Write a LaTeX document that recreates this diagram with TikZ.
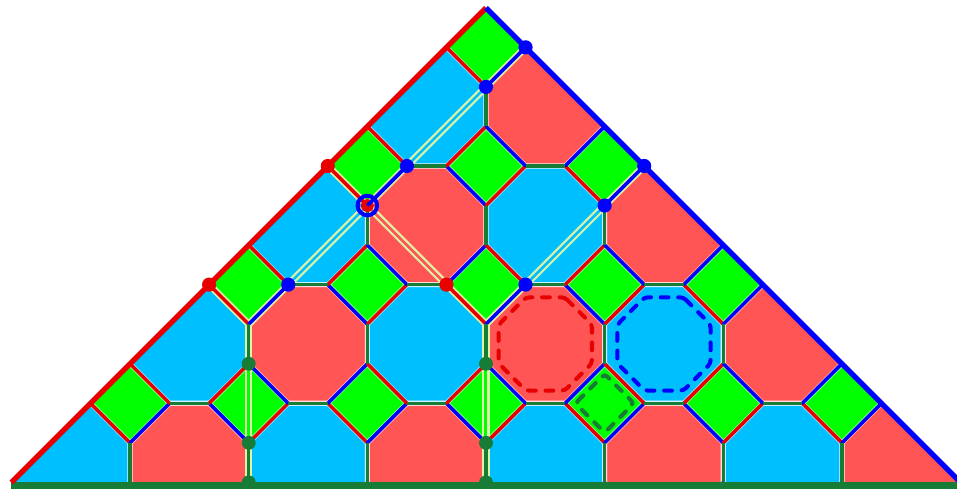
\documentclass[tikz,border=0pt]{standalone}
\definecolor{octred}{HTML}{FF5555}
\definecolor{octblue}{HTML}{00BFFF}
\definecolor{sqgreen}{HTML}{00FF00}
\definecolor{ered}{HTML}{E80000}
\definecolor{eblue}{HTML}{0000FF}
\definecolor{egreen}{HTML}{167C36}
\definecolor{pale}{HTML}{DDF3A6}
\begin{document}
\begin{tikzpicture}[x=1cm,y=1cm,
  edge/.style={line width=2.5pt},
  halo/.style={draw=white, line width=3.7pt, opacity=0.55, line join=round},
  pl/.style={draw=pale, line width=1.45pt},
  dshape/.style={line width=2.9pt, line cap=round, dash pattern=on 5.6pt off 7pt, rounded corners=2.5pt},
  bdot/.style={fill=eblue},
  rdot/.style={fill=ered},
  gdot/.style={fill=egreen}]
\useasboundingbox (-12.288,-0.1416) rectangle (11.909,12.197);
% named points
\coordinate (b1) at (1,11);
\coordinate (b2) at (0,10);
\coordinate (b3) at (-2,8);
\coordinate (b4) at (4,8);
\coordinate (b5) at (3,7);
\coordinate (b6) at (-5,5);
\coordinate (b7) at (1,5);
\coordinate (r1) at (-4,8);
\coordinate (r2) at (-7,5);
\coordinate (r3) at (-1,5);
\coordinate (rr) at (-3,7);
\coordinate (g1) at (-6,3);
\coordinate (g2) at (-6,1);
\coordinate (g3) at (-6,0);
\coordinate (g4) at (0,3);
\coordinate (g5) at (0,1);
\coordinate (g6) at (0,0);
\coordinate (v1) at (-6,4);
\coordinate (v2) at (0,4);
\coordinate (ta) at (0,12);
\coordinate (tl) at (-12,0);
\coordinate (tr) at (12,0);
\begin{scope}
\clip (tl) -- (ta) -- (tr) -- cycle;
% octagon fills
\foreach \i in {-5,...,4}{\foreach \j in {0,...,3}{
  \pgfmathtruncatemacro{\pp}{mod(\i+\j+20,2)}
  \ifnum\pp=1 \def\oc{octred}\else\def\oc{octblue}\fi
  \fill[fill=\oc, shift={({1.5+3*\i},{0.5+3*\j})}] (0.5,1.5)--(1.5,0.5)--(1.5,-0.5)--(0.5,-1.5)--(-0.5,-1.5)--(-1.5,-0.5)--(-1.5,0.5)--(-0.5,1.5)--cycle;
}}
% square fills
\foreach \ka in {-4,...,4}{\foreach \kb in {0,...,3}{
  \fill[sqgreen, shift={({3*\ka},{2+3*\kb})}] (-1,0)--(0,1)--(1,0)--(0,-1)--cycle;
}}
% halos
\foreach \i in {-5,...,4}{\foreach \j in {0,...,3}{
  \draw[halo, shift={({1.5+3*\i},{0.5+3*\j})}] (0.5,1.5)--(1.5,0.5)--(1.5,-0.5)--(0.5,-1.5)--(-0.5,-1.5)--(-1.5,-0.5)--(-1.5,0.5)--(-0.5,1.5)--cycle;
}}
% pale double paths
\foreach \s in {1,-1}{
  \draw[pl, transform canvas={shift={(\s*1.27pt,-\s*1.27pt)}}] (b1) -- (v1);
  \draw[pl, transform canvas={shift={(\s*1.27pt,-\s*1.27pt)}}] (b4) -- (v2);
  \draw[pl, transform canvas={shift={(\s*1.27pt,\s*1.27pt)}}] (r1) -- (v2);
  \draw[pl, transform canvas={shift={(\s*1.27pt,\s*1.27pt)}}] (r2) -- (v1);
  \draw[pl, transform canvas={shift={(\s*1.8pt,0pt)}}] (v1) -- (g3);
  \draw[pl, transform canvas={shift={(\s*1.8pt,0pt)}}] (v2) -- (g6);
}
% coloured edges
\foreach \i in {-5,...,4}{\foreach \j in {0,...,3}{
  \pgfmathtruncatemacro{\pp}{mod(\i+\j+20,2)}
  \ifnum\pp=1 \def\dc{eblue}\else\def\dc{ered}\fi
  \draw[edge, draw=\dc, line cap=round, shift={({1.5+3*\i},{0.5+3*\j})}] (0.5,1.5)--(1.5,0.5) (1.5,-0.5)--(0.5,-1.5) (-0.5,-1.5)--(-1.5,-0.5) (-1.5,0.5)--(-0.5,1.5);
  \draw[edge, draw=egreen, shift={({1.5+3*\i},{0.5+3*\j})}] (-0.5,1.5)--(0.5,1.5) (1.5,0.5)--(1.5,-0.5) (0.5,-1.5)--(-0.5,-1.5) (-1.5,-0.5)--(-1.5,0.5);
}}
\end{scope}
% dashed shapes
\draw[dshape, draw=ered, shift={(1.5,3.5)}] (0.49,1.18)--(1.18,0.49)--(1.18,-0.49)--(0.49,-1.18)--(-0.49,-1.18)--(-1.18,-0.49)--(-1.18,0.49)--(-0.49,1.18)--cycle;
\draw[dshape, draw=eblue, shift={(4.5,3.5)}] (0.49,1.18)--(1.18,0.49)--(1.18,-0.49)--(0.49,-1.18)--(-0.49,-1.18)--(-1.18,-0.49)--(-1.18,0.49)--(-0.49,1.18)--cycle;
\draw[dshape, draw=egreen, shift={(3,2)}] (-0.74,0)--(0,0.74)--(0.74,0)--(0,-0.74)--cycle;
% boundary
\fill[egreen] (-12,0) rectangle (12.5,-0.2);
\draw[ered, line width=3.8pt] (tl) -- (ta);
\draw[eblue, line width=3.8pt] (ta) -- (tr);
% dots
\fill[rdot] (rr) circle (4.6pt);
\draw[edge, eblue] (rr) -- (b3);
\draw[eblue, line width=2.9pt] (rr) circle (7pt);
\foreach \p in {b1,b2,b3,b4,b5,b6,b7}{\fill[bdot] (\p) circle (5.1pt);}
\foreach \p in {r1,r2,r3}{\fill[rdot] (\p) circle (5.1pt);}
\foreach \p in {g1,g2,g3,g4,g5,g6}{\fill[gdot] (\p) circle (5pt);}
\end{tikzpicture}
\end{document}
